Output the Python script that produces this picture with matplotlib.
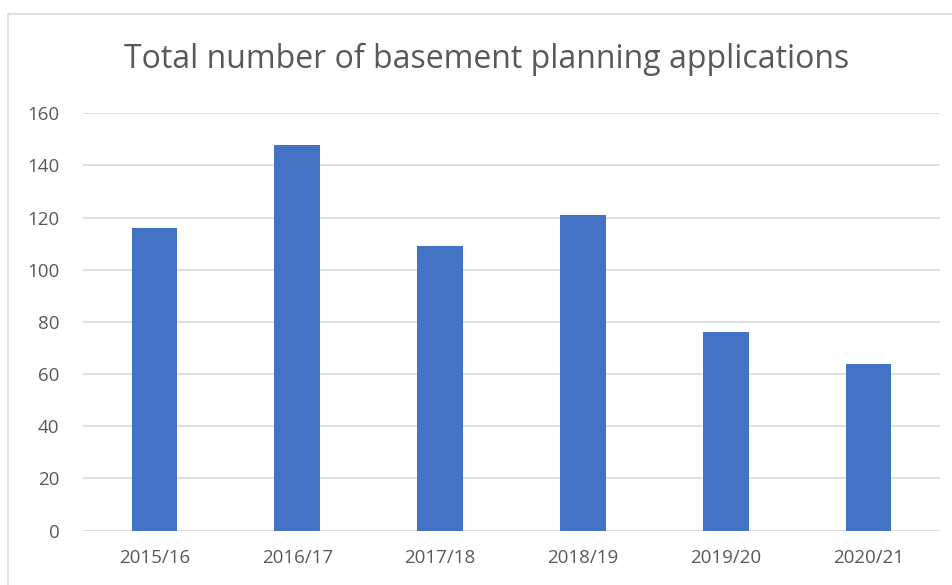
import matplotlib
matplotlib.use("Agg")
import matplotlib.pyplot as plt
from matplotlib.patches import Rectangle

years = ["2015/16", "2016/17", "2017/18", "2018/19", "2019/20", "2020/21"]
applications = [116, 148, 109, 121, 76, 64]
yticks = [0, 20, 40, 60, 80, 100, 120, 140, 160]
title = "Total number of basement planning applications"

plt.rcParams['font.family'] = ['Open Sans', 'DejaVu Sans']

fig = plt.figure(figsize=(9.53, 5.85), dpi=100)
fig.patch.set_facecolor('white')
# chart frame
fig.patches.append(Rectangle((8/953, -0.05), 1.2, 1 - 14/585 + 0.05,
                             transform=fig.transFigure, fill=False,
                             edgecolor='#d9d9d9', linewidth=1.2))

ax = fig.add_axes([83/953, 1 - 530.5/585, (940 - 83)/953, (530.5 - 113.3)/585])
x = range(len(years))
ax.bar(x, applications, width=0.32, color='#4472C4', zorder=3)
ax.set_xlim(-0.5, len(years) - 0.5)
ax.set_ylim(0, 160)
ax.set_yticks(yticks)
ax.set_xticks(list(x))
ax.set_xticklabels(years)
ax.grid(axis='y', color='#d9d9d9', linewidth=1.2, zorder=0)
for s in ax.spines.values():
    s.set_visible(False)
ax.tick_params(axis='both', length=0, colors='#595959', labelsize=13.5)
ax.tick_params(axis='y', pad=17)
ax.tick_params(axis='x', pad=13)

fig.text(487/953, 1 - 59/585, title, ha='center', va='center',
         fontsize=23, color='#595959')

fig.savefig('out.png', dpi=100)
